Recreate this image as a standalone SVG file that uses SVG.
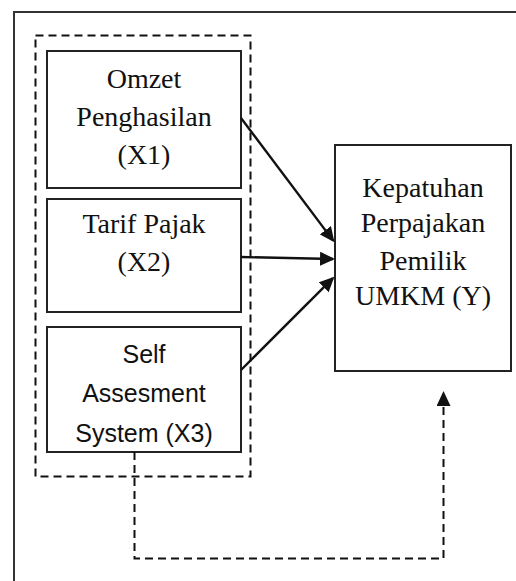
<svg xmlns="http://www.w3.org/2000/svg" width="516" height="581" viewBox="0 0 516 581">
<style>
.box{fill:#fff;stroke:#222;stroke-width:2}
.serif{font-family:"Liberation Serif","Times New Roman",serif;font-size:28px;fill:#111;text-anchor:middle}
.sans{font-family:"Liberation Sans",Arial,sans-serif;font-size:25px;fill:#111;text-anchor:middle}
.solid{stroke:#111;stroke-width:2.4;fill:none}
.dash{stroke:#111;stroke-width:2;fill:none;stroke-dasharray:8 5}
</style>
<defs>
<marker id="ah" markerUnits="userSpaceOnUse" markerWidth="16" markerHeight="14" refX="13" refY="7" orient="auto">
<path d="M0,0 L15,7 L0,14 z" fill="#111"/>
</marker>
</defs>
<rect width="516" height="581" fill="#fff"/>
<g id="frame">
<path d="M14,581 V12 H516" fill="none" stroke="#333" stroke-width="2"/>
</g>
<g id="group-x">
<rect x="35.5" y="35.5" width="215" height="441" fill="none" stroke="#111" stroke-width="2" stroke-dasharray="8 5"/>
</g>
<g id="x1">
<rect class="box" x="47" y="51" width="194" height="137"/>
<text class="serif" x="144" y="88">Omzet</text>
<text class="serif" x="144" y="126">Penghasilan</text>
<text class="serif" x="144" y="164">(X1)</text>
</g>
<g id="x2">
<rect class="box" x="47" y="199" width="194" height="113"/>
<text class="serif" x="144" y="233">Tarif Pajak</text>
<text class="serif" x="144" y="271">(X2)</text>
</g>
<g id="x3">
<rect class="box" x="47" y="327" width="194" height="125"/>
<text class="sans" x="144" y="363">Self</text>
<text class="sans" x="144" y="402">Assesment</text>
<text class="sans" x="144" y="442">System (X3)</text>
</g>
<g id="y">
<rect class="box" x="335" y="145" width="176" height="226"/>
<text class="serif" x="423" y="197">Kepatuhan</text>
<text class="serif" x="423" y="232">Perpajakan</text>
<text class="serif" x="423" y="270">Pemilik</text>
<text class="serif" x="423" y="305">UMKM (Y)</text>
</g>
<g id="connectors">
<line class="solid" x1="241" y1="118" x2="333.2" y2="240.6" marker-end="url(#ah)"/>
<line class="solid" x1="241" y1="257" x2="333" y2="259" marker-end="url(#ah)"/>
<line class="solid" x1="241" y1="370" x2="332.9" y2="278.1" marker-end="url(#ah)"/>
<path class="dash" d="M134.5,452 V558.5 H443.5 V393" marker-end="url(#ah)"/>
</g>
</svg>
